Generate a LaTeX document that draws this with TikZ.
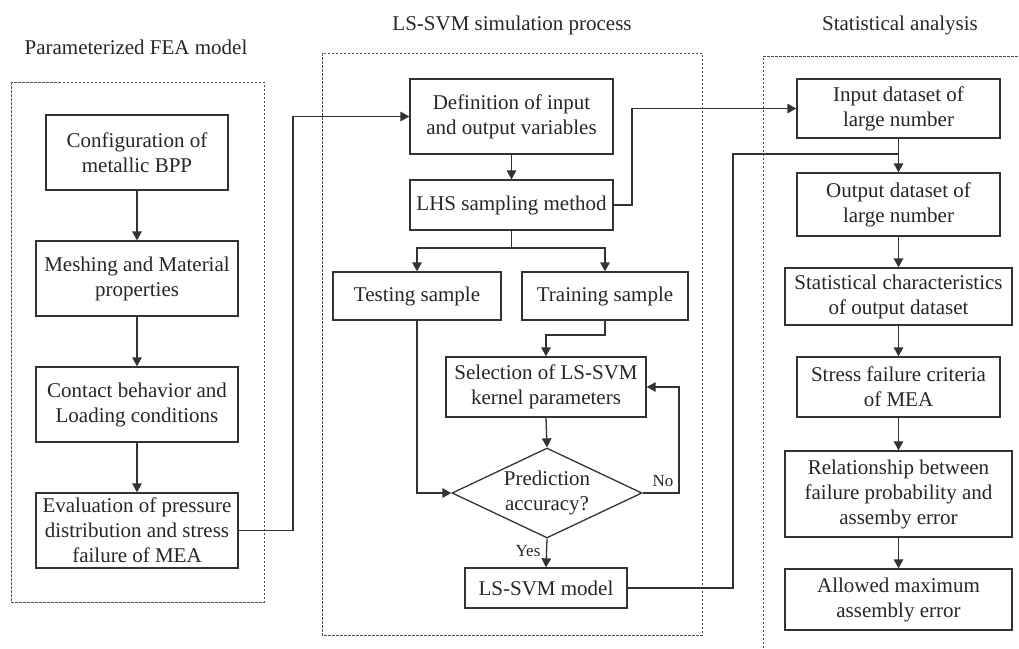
\documentclass[tikz,border=0pt]{standalone}
\usepackage{fontspec}
\setmainfont{Liberation Serif}
\usetikzlibrary{arrows.meta,shapes.geometric}
\begin{document}
\begin{tikzpicture}[x=1pt,y=-1pt,
  font=\fontsize{21}{25}\selectfont,
  every node/.style={text=black!85},
  box/.style={draw=black!80,line width=1.3pt,align=center,inner sep=0pt},
  conn/.style={draw=black!80,line width=1.3pt},
  arr/.style={conn,-{Triangle[length=9pt,width=9.5pt]}},
  frame/.style={draw=black!70,line width=1pt,dash pattern=on 2.5pt off 1.5pt},
  ttl/.style={font=\fontsize{21}{25}\selectfont},
  lbl/.style={font=\fontsize{17}{20}\selectfont}]
\useasboundingbox (0,0) rectangle (1019,648);

% dashed frames
\draw[frame] (11,82) rectangle (264,602);
\draw[frame] (322,53) rectangle (702,635);
\draw[frame] (763,648) -- (763,56) -- (1019,56);

% titles
\node[ttl] (t1) at (136,47) {Parameterized FEA model};
\node[ttl] (t2) at (512,25) {LS-SVM simulation process};
\node[ttl] (t3) at (900,25) {Statistical analysis};

% left column
\node[box,minimum width=182,minimum height=75] (b1) at (137,152.5) {Configuration of\\metallic BPP};
\node[box,minimum width=202,minimum height=75] (b2) at (137,278.5) {Meshing and Material\\properties};
\node[box,minimum width=202,minimum height=75] (b3) at (137,404.5) {Contact behavior and\\Loading conditions};
\node[box,minimum width=202,minimum height=75] (b4) at (137,530.5) {Evaluation of pressure\\distribution and stress\\failure of MEA};

% middle column
\node[box,minimum width=203,minimum height=75] (def) at (511.5,116.5) {Definition of input\\and output variables};
\node[box,minimum width=203,minimum height=50] (lhs) at (511.5,205) {LHS sampling method};
\node[box,minimum width=168,minimum height=48] (test) at (417,296) {Testing sample};
\node[box,minimum width=166,minimum height=48] (train) at (605,296) {Training sample};
\node[box,minimum width=200,minimum height=60] (sel) at (546,387) {Selection of LS-SVM\\kernel parameters};
\node[draw=black!80,line width=1.3pt,diamond,inner sep=0pt,minimum width=190,minimum height=90] (dia) at (547,493) {};
\node[align=center] (diat) at (dia.center) {Prediction\\accuracy?};
\node[box,minimum width=162,minimum height=40] (model) at (546,588) {LS-SVM model};

% right column
\node[box,minimum width=203,minimum height=59] (in) at (898.5,108.5) {Input dataset of\\large number};
\node[box,minimum width=203,minimum height=63] (out) at (898.5,204.5) {Output dataset of\\large number};
\node[box,minimum width=227,minimum height=57] (stat) at (898.5,296.5) {Statistical characteristics\\of output dataset};
\node[box,minimum width=203,minimum height=60] (stress) at (898.5,387) {Stress failure criteria\\of MEA};
\node[box,minimum width=227,minimum height=86] (rel) at (898.5,494) {Relationship between\\failure probability and\\assemby error};
\node[box,minimum width=227,minimum height=61] (allow) at (898.5,599.5) {Allowed maximum\\assembly error};

% left connectors
\draw[arr] (b1) -- (b2);
\draw[arr] (b2) -- (b3);
\draw[arr] (b3) -- (b4);
\coordinate (c1) at (293,530.5);
\coordinate (c2) at (293,116.5);
\draw[arr] (b4.east) -- (c1) -- (c2) -- (def.west);

% middle connectors
\draw[arr] (def) -- (lhs);
\coordinate (split) at (511.5,248);
\draw[conn] (lhs.south) -- (split);
\draw[arr] (split) -| (test.north);
\draw[arr] (split) -| (train.north);
\coordinate (tr1) at (605,335);
\draw[arr] (train.south) -- (tr1) -| (sel.north);
\draw[arr] (sel.south) -- (dia.north);
\draw[arr] (test.south) |- (dia.west);
\coordinate (no1) at (679,493);
\draw[arr] (dia.east) -- (no1) |- (sel.east);
\node[lbl] (nolbl) at (663,481) {No};
\draw[arr] (dia.south) -- (model.north);
\node[lbl] (yeslbl) at (528,551) {Yes};

% cross connectors
\coordinate (l1) at (632,205);
\coordinate (l2) at (632,108.5);
\draw[arr] (lhs.east) -- (l1) -- (l2) -- (in.west);
\coordinate (m1) at (733,588);
\coordinate (m2) at (733,154);
\coordinate (m3) at (898.5,154);
\draw[conn] (model.east) -- (m1) -- (m2) -- (m3);

% right connectors
\draw[arr] (in) -- (out);
\draw[arr] (out) -- (stat);
\draw[arr] (stat) -- (stress);
\draw[arr] (stress) -- (rel);
\draw[arr] (rel) -- (allow);
\end{tikzpicture}
\end{document}
